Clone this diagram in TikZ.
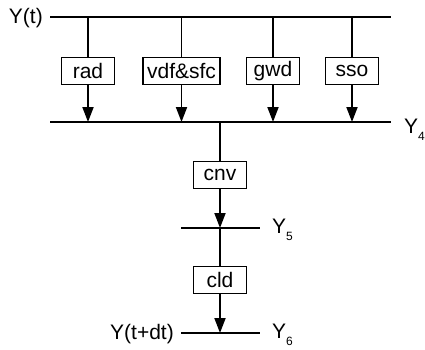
\documentclass[tikz,border=0pt]{standalone}
\usepackage{fontspec}
\setmainfont{Liberation Sans}
\usetikzlibrary{arrows.meta}

\tikzset{
  proc/.style={draw, line width=1.6pt, minimum width=53pt, minimum height=27pt,
    inner xsep=4pt, inner ysep=0pt},
  bus/.style={line width=1.9pt},
  flow/.style={line width=1.9pt, -{Triangle[length=15pt,width=11pt]}},
  lbl/.style={inner sep=0pt}
}

\begin{document}
\begin{tikzpicture}[x=1pt,y=-1pt,font=\fontsize{21}{25}\selectfont]
\useasboundingbox (0,0) rectangle (425,349);

% State lines
\coordinate (t0l) at (50,17);   \coordinate (t0r) at (391,17);
\coordinate (t4l) at (50,122);  \coordinate (t4r) at (391,122);
\coordinate (t5l) at (181,228); \coordinate (t5r) at (260,228);
\coordinate (t6l) at (181,333); \coordinate (t6r) at (260,333);
\draw[bus] (t0l) -- (t0r);
\draw[bus] (t4l) -- (t4r);
\draw[bus] (t5l) -- (t5r);
\draw[bus] (t6l) -- (t6r);

% Labels of the states
\node[lbl, anchor=east] (yt) at (43,18) {Y(t)};
\node[lbl, anchor=west] (y4) at (404,130) {Y\raisebox{-7pt}{\fontsize{12}{12}\selectfont 4}};
\node[lbl, anchor=west] (y5) at (272,230) {Y\raisebox{-7pt}{\fontsize{12}{12}\selectfont 5}};
\node[lbl, anchor=west] (y6) at (272,335) {Y\raisebox{-7pt}{\fontsize{12}{12}\selectfont 6}};
\node[lbl, anchor=east] (ytdt) at (174,334) {Y(t+dt)};

% Parallel processes
\node[proc] (rad) at (88,71) {rad};
\node[proc] (vdf) at (181.5,71) {vdf\&sfc};
\node[proc] (gwd) at (273,71) {gwd};
\node[proc] (sso) at (352,71) {sso};

\draw[bus] (rad |- t0l) -- (rad);
\draw[bus] (vdf |- t0l) -- (vdf);
\draw[bus] (gwd |- t0l) -- (gwd);
\draw[bus] (sso |- t0l) -- (sso);
\draw[flow] (rad) -- (rad |- t4l);
\draw[flow] (vdf) -- (vdf |- t4l);
\draw[flow] (gwd) -- (gwd |- t4l);
\draw[flow] (sso) -- (sso |- t4l);

% Sequential processes
\node[proc] (cnv) at (220,175) {cnv};
\node[proc] (cld) at (220,280) {cld};

\draw[bus] (cnv |- t4l) -- (cnv);
\draw[flow] (cnv) -- (cnv |- t5l);
\draw[bus] (cld |- t5l) -- (cld);
\draw[flow] (cld) -- (cld |- t6l);

\end{tikzpicture}
\end{document}
